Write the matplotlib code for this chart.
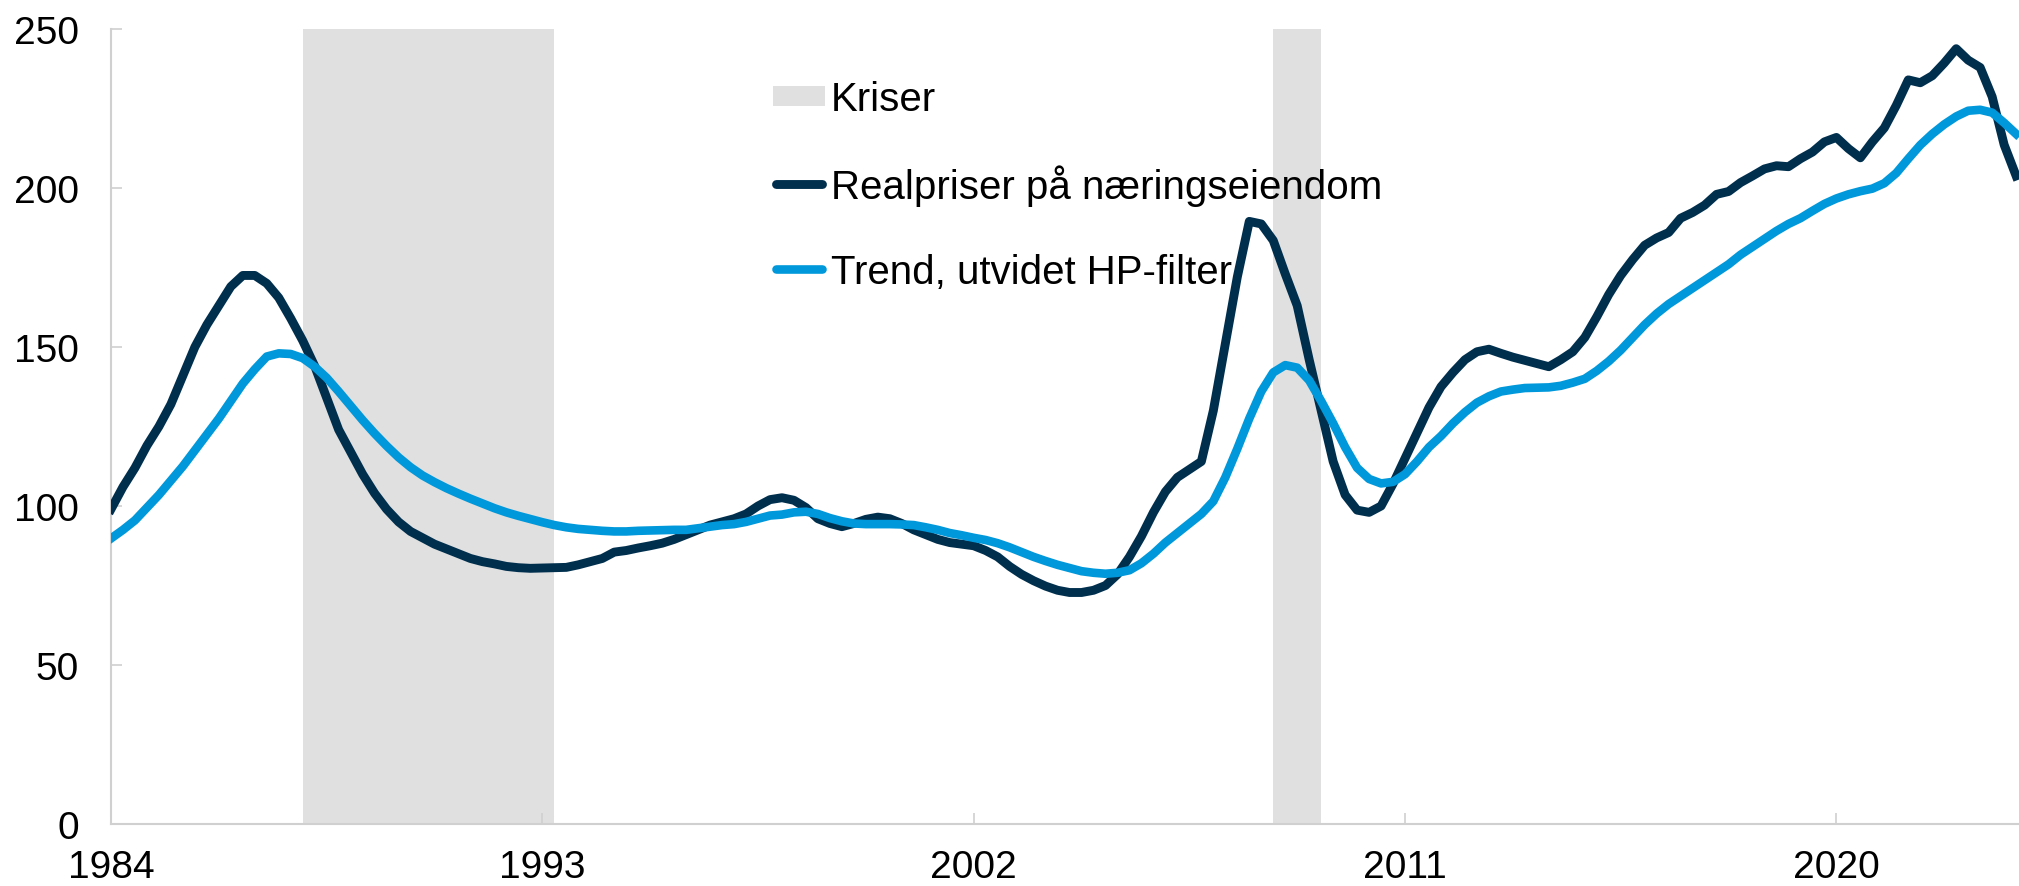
import numpy as np
import matplotlib
matplotlib.use("Agg")
import matplotlib.pyplot as plt
from matplotlib.patches import Rectangle
from matplotlib.lines import Line2D

plt.rcParams['font.family'] = ['Liberation Sans', 'DejaVu Sans']

# kvartalsdata 1984K1 - 2023K4
start_year = 1984
real_prices = [
    99, 106, 112, 119,            # 1984
    125, 132, 141, 150,           # 1985
    157, 163, 169, 172.5,         # 1986
    172.5, 170, 165.5, 159,       # 1987
    152, 144, 134, 124,           # 1988
    117, 110, 104, 99,            # 1989
    95, 92, 90, 88,               # 1990
    86.5, 85, 83.5, 82.5,         # 1991
    81.8, 81, 80.6, 80.4,         # 1992
    80.5, 80.6, 80.7, 81.5,       # 1993
    82.5, 83.5, 85.5, 86,         # 1994
    86.8, 87.5, 88.3, 89.5,       # 1995
    91, 92.5, 94, 95,             # 1996
    96, 97.5, 100, 102,           # 1997
    102.6, 101.8, 99.5, 96,       # 1998
    94.5, 93.5, 94.5, 95.8,       # 1999
    96.5, 96, 94.5, 92.5,         # 2000
    91, 89.5, 88.5, 88,           # 2001
    87.5, 86, 84, 81,             # 2002
    78.5, 76.5, 74.8, 73.5,       # 2003
    72.8, 72.8, 73.5, 75,         # 2004
    78.5, 84, 90.5, 98,           # 2005
    104.5, 109, 111.5, 114,       # 2006
    130, 151, 172, 189.5,         # 2007
    188.7, 183.5, 173, 163,       # 2008
    146, 130, 114, 103.5,         # 2009
    98.7, 98, 100, 107,           # 2010
    115, 123, 131, 137.5,         # 2011
    142, 146, 148.5, 149.3,       # 2012
    148, 146.8, 145.8, 144.8,     # 2013
    143.8, 146, 148.5, 153,       # 2014
    159.5, 166.5, 172.5, 177.5,   # 2015
    182, 184.3, 186, 190.5,       # 2016
    192.3, 194.6, 198, 198.9,     # 2017
    201.7, 203.8, 206, 207,       # 2018
    206.7, 209.2, 211.3, 214.5,   # 2019
    215.9, 212.4, 209.5, 214.5,   # 2020
    218.9, 226, 234, 233.1,       # 2021
    235.3, 239.3, 243.8, 240.2,   # 2022
    237.9, 228.7, 213.6, 203.8,   # 2023
]
trend = [
    89.8, 92.5, 95.5, 99.5,       # 1984
    103.5, 108, 112.5, 117.5,     # 1985
    122.5, 127.5, 133, 138.5,     # 1986
    143, 147, 148, 147.8,         # 1987
    146.5, 143.8, 140.3, 136,     # 1988
    131.5, 127, 122.8, 118.9,     # 1989
    115.3, 112.2, 109.6, 107.5,   # 1990
    105.6, 103.9, 102.3, 100.8,   # 1991
    99.3, 98, 96.9, 95.9,         # 1992
    94.9, 94, 93.3, 92.8,         # 1993
    92.5, 92.2, 92, 92,           # 1994
    92.2, 92.3, 92.4, 92.5,       # 1995
    92.5, 93, 93.5, 94,           # 1996
    94.3, 95, 96, 97,             # 1997
    97.3, 98, 98.2, 97.5,         # 1998
    96.2, 95.2, 94.5, 94.3,       # 1999
    94.3, 94.3, 94.2, 94,         # 2000
    93.3, 92.5, 91.5, 90.8,       # 2001
    90, 89.3, 88.3, 87,           # 2002
    85.5, 84, 82.7, 81.5,         # 2003
    80.5, 79.5, 79, 78.7,         # 2004
    79, 79.8, 82, 85,             # 2005
    88.5, 91.5, 94.5, 97.5,       # 2006
    101.5, 109, 118, 127.5,       # 2007
    136, 142, 144.3, 143.5,       # 2008
    139.5, 133, 126, 118.5,       # 2009
    112, 108.5, 107.1, 107.6,     # 2010
    110, 114, 118.5, 122,         # 2011
    126, 129.5, 132.5, 134.5,     # 2012
    136, 136.6, 137.1, 137.2,     # 2013
    137.3, 137.8, 138.8, 140,     # 2014
    142.5, 145.5, 149, 153,       # 2015
    157, 160.5, 163.5, 166,       # 2016
    168.5, 171, 173.5, 176,       # 2017
    179, 181.5, 184, 186.5,       # 2018
    188.7, 190.5, 192.8, 195,     # 2019
    196.7, 198, 199, 199.8,       # 2020
    201.5, 204.7, 209.2, 213.5,   # 2021
    217, 220, 222.5, 224.3,       # 2022
    224.6, 223.7, 220.5, 217,     # 2023
]
crisis_start = [1988.0, 2008.25]
crisis_end = [1993.25, 2009.25]
year_ticks = [1984, 1993, 2002, 2011, 2020]
legend_labels = ['Kriser', 'Realpriser på næringseiendom', 'Trend, utvidet HP-filter']

dark = '#002f4e'
light = '#0098da'
shade = '#e0e0e0'
W, H = 2019, 887

x = start_year + np.arange(len(real_prices)) / 4

fig = plt.figure(figsize=(W / 100, H / 100), dpi=100)
ax = fig.add_axes([111 / W, 62 / H, 1 - 111 / W, 795 / H])

for a, b in zip(crisis_start, crisis_end):
    ax.axvspan(a, b, color=shade, lw=0, zorder=0)

ax.plot(x, real_prices, color=dark, lw=6.4, solid_joinstyle='round', zorder=3)
ax.plot(x, trend, color=light, lw=6.2, solid_joinstyle='round', zorder=4)

ax.set_xlim(1984, 2023.81)
ax.set_ylim(0, 250)
ax.set_xticks(year_ticks)
ax.set_xticklabels([str(y) for y in year_ticks])
ax.set_yticks(range(0, 251, 50))

for s in ['top', 'right']:
    ax.spines[s].set_visible(False)
for s in ['left', 'bottom']:
    ax.spines[s].set_color('#d0d0d0')
    ax.spines[s].set_linewidth(1.5)

ax.tick_params(axis='both', direction='in', length=8, width=1.2, color='#d0d0d0',
               labelsize=28, labelcolor='black')
ax.tick_params(axis='y', pad=23)
ax.tick_params(axis='x', pad=18)

# legend, drawn by hand in figure pixels (from top)
fs = 29
em = fs * 100 / 72
row_y = [97, 185, 270]
hx0, hx1, tx = 773, 825, 831

def fx(px):
    return px / W

def fy(py):
    return 1 - py / H

fig.add_artist(Rectangle((fx(hx0), fy(row_y[0] + 10)), fx(hx1 - hx0), 20 / H,
                         transform=fig.transFigure, facecolor=shade, edgecolor='none'))
for yy, col, lw in [(row_y[1], dark, 6.4), (row_y[2], light, 6.2)]:
    fig.add_artist(Line2D([fx(hx0 + 3), fx(hx1 - 3)], [fy(yy), fy(yy)], transform=fig.transFigure,
                          color=col, lw=lw, solid_capstyle='round'))
for yy, lab in zip(row_y, legend_labels):
    fig.text(fx(tx), fy(yy + 0.358 * em), lab, fontsize=fs, va='baseline', ha='left')

fig.savefig('out.png', dpi=100)
